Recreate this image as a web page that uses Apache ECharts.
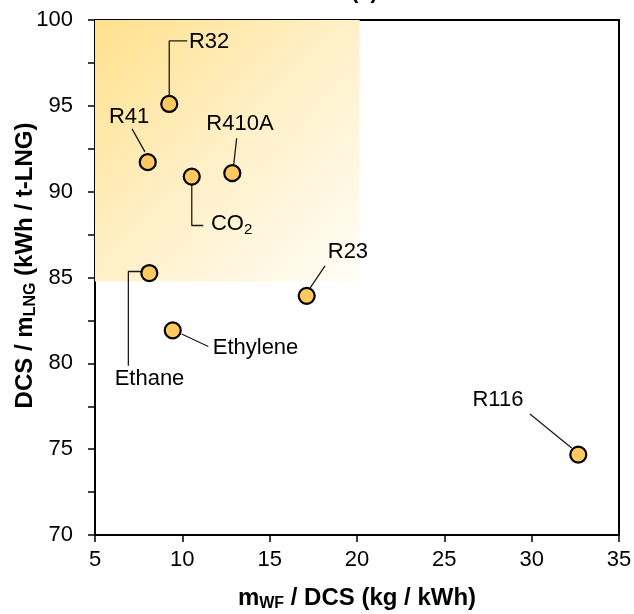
<!DOCTYPE html>
<html><head><meta charset="utf-8">
<script src="https://cdn.jsdelivr.net/npm/echarts@6/dist/echarts.min.js"></script>
<style>html,body{margin:0;padding:0;background:#fff}#c{width:634px;height:614px}</style>
</head><body><div id="c"></div>
<script>
// ---- data ----
const fluids = ['R32', 'R41', 'CO{sub|2}', 'R410A', 'Ethane', 'Ethylene', 'R23', 'R116'];
const massPerDCS = [9.25, 8.02, 10.54, 12.86, 8.11, 9.45, 17.12, 32.67];   // x: m_WF / DCS (kg/kWh)
const dcsPerLNG = [95.11, 91.72, 90.88, 91.08, 85.26, 81.92, 83.93, 74.68]; // y: DCS / m_LNG (kWh / t-LNG)
const xTicks = [5, 10, 15, 20, 25, 30, 35];
const yTicks = [70, 75, 80, 85, 90, 95, 100];
// favourable region (shaded)
const regionX = [5, 20.15];
const regionY = [84.77, 100];

// ---- annotation layout (data coordinates) ----
const leaderX = [[9.25, 9.25, 10.28], [7.12, 7.86], [10.54, 10.54, 11.2], [13.11, 12.94], [8.11, 6.91, 6.91], [9.96, 11.49], [17.31, 18.17], [29.9, 32.29]];
const leaderY = [[95.11, 98.78, 98.78], [93.66, 92.32], [90.88, 88.03, 88.03], [93.11, 91.56], [85.35, 85.35, 79.86], [81.71, 80.98], [84.38, 85.68], [77.05, 75.07]];
const labelX = [10.38, 6.95, 11.64, 13.30, 8.12, 11.74, 19.48, 28.07];
const labelY = [98.75, 94.38, 88.10, 93.95, 79.10, 80.91, 86.50, 77.85];
const labelAnchor = ['right', 'inside', 'right', 'inside', 'inside', 'right', 'inside', 'inside'];

const FONT = 'Liberation Sans, Arial, sans-serif';
const chart = echarts.init(document.getElementById('c'), null, {renderer: 'canvas'});

const leaderSeries = fluids.map((f, i) => ({
  type: 'line', silent: true, z: 3, symbol: 'none', animation: false,
  lineStyle: {color: '#1a1a1a', width: 1.3},
  data: leaderX[i].map((x, k) => [x, leaderY[i][k]])
}));

const subStyle = {fontFamily: FONT, fontSize: 16, fontWeight: 'bold', color: '#000', verticalAlign: 'bottom', padding: [12, 0, 0, 0]};

const option = {
  animation: false,
  title: {text: '(a)', left: 346, top: -24, textStyle: {fontFamily: FONT, fontSize: 22, fontWeight: 'bold', color: '#000'}},
  grid: {left: 95, right: 15, top: 20, bottom: 79, show: true, borderColor: '#000', borderWidth: 2,
    backgroundColor: 'transparent', containLabel: false, outerBoundsMode: 'none'},
  xAxis: {
    type: 'value', min: xTicks[0], max: xTicks[xTicks.length - 1], interval: 5,
    splitLine: {show: false},
    axisLine: {lineStyle: {color: '#000', width: 2}},
    axisTick: {show: true, inside: false, length: 7, lineStyle: {color: '#000', width: 1.5}},
    axisLabel: {fontFamily: FONT, fontSize: 22, color: '#000', margin: 14},
    name: 'm{sub|WF} / DCS (kg / kWh)', nameLocation: 'middle', nameGap: 49,
    nameTextStyle: {fontFamily: FONT, fontSize: 24, fontWeight: 'bold', color: '#000', rich: {sub: subStyle}}
  },
  yAxis: {
    type: 'value', min: yTicks[0], max: yTicks[yTicks.length - 1], interval: 5,
    splitLine: {show: false},
    axisLine: {lineStyle: {color: '#000', width: 2}},
    axisTick: {show: true, inside: false, length: 7, lineStyle: {color: '#000', width: 1.5}},
    minorTick: {show: true, splitNumber: 2, length: 7, lineStyle: {color: '#000', width: 1.5}},
    axisLabel: {fontFamily: FONT, fontSize: 22, color: '#000', margin: 22},
    name: 'DCS / m{sub|LNG} (kWh / t-LNG)', nameLocation: 'middle', nameGap: 56, nameMoveOverlap: false,
    nameTextStyle: {fontFamily: FONT, fontSize: 24, fontWeight: 'bold', color: '#000', padding: [0, 0, 0, 24], rich: {sub: subStyle}}
  },
  series: [
    {
      type: 'scatter', z: 1, symbolSize: 0, silent: true, data: [],
      markArea: {
        silent: true,
        itemStyle: {color: new echarts.graphic.LinearGradient(0, 0, 1, 1, [
          {offset: 0, color: 'rgba(255,224,140,1)'},
          {offset: 0.5, color: 'rgba(255,240,200,1)'},
          {offset: 1, color: 'rgba(255,253,247,1)'}
        ])},
        data: [[{coord: [regionX[0], regionY[1]]}, {coord: [regionX[1], regionY[0]]}]]
      }
    },
    ...leaderSeries,
    {
      type: 'scatter', z: 5, symbol: 'circle', symbolSize: 16,
      itemStyle: {color: '#FFC95F', borderColor: '#000', borderWidth: 2.2, opacity: 1},
      data: massPerDCS.map((x, i) => [x, dcsPerLNG[i]])
    },
    {
      type: 'scatter', z: 6, symbolSize: 0, silent: true,
      data: fluids.map((f, i) => ({
        value: [labelX[i], labelY[i]],
        label: {show: true, formatter: f, position: labelAnchor[i], distance: 0,
          fontFamily: FONT, fontSize: 22, color: '#000', textBorderWidth: 0, opacity: 1,
          rich: {sub: {fontFamily: FONT, fontSize: 15, color: '#000', textBorderWidth: 0, verticalAlign: 'bottom', padding: [12, 0, 0, 0]}}}
      }))
    }
  ]
};
chart.setOption(option);
</script></body></html>
